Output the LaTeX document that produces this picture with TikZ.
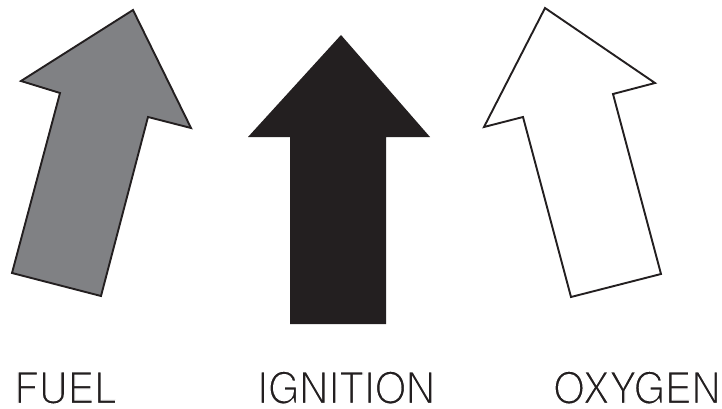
\documentclass[tikz,border=0pt]{standalone}
\usepackage{fontspec}
\setmainfont{TeX Gyre Heros}
\definecolor{fuelgray}{RGB}{128,129,132}
\definecolor{nearblack}{RGB}{35,31,32}
\newcommand{\thintext}[1]{\special{pdf:code q 2 Tr 1 1 1 RG 1.3 w}#1\special{pdf:code Q}}
\begin{document}
\begin{tikzpicture}[x=1pt,y=-1pt,
  arrowshape/.style={draw=nearblack,line width=1.9pt,line join=miter},
  lbl/.style={anchor=base,inner sep=0pt,text=nearblack,font=\fontsize{43.5}{48}\selectfont,xscale=0.92,transform shape}]
\useasboundingbox (0,0) rectangle (722,409);
% FUEL arrow
\draw[arrowshape,fill=fuelgray] (133,10) -- (191,128) -- (148,117) -- (101,296) -- (12,273) -- (60,93) -- (21,81) -- cycle;
% IGNITION arrow
\fill[nearblack] (341,35) -- (430,137) -- (386,137) -- (386,324) -- (290,324) -- (290,137) -- (248,137) -- cycle;
% OXYGEN arrow
\draw[arrowshape,fill=white] (545,8) -- (655,83) -- (613,94) -- (661,274) -- (571,297) -- (523,117) -- (484,127) -- cycle;
% labels
\node[lbl] (fuel) at (65.5,403.5) {\thintext{FUEL}};
\node[lbl] (ignition) at (346,403.5) {\thintext{IGNITION}};
\node[lbl] (oxygen) at (637,403.5) {\thintext{OXYGEN}};
\end{tikzpicture}
\end{document}
